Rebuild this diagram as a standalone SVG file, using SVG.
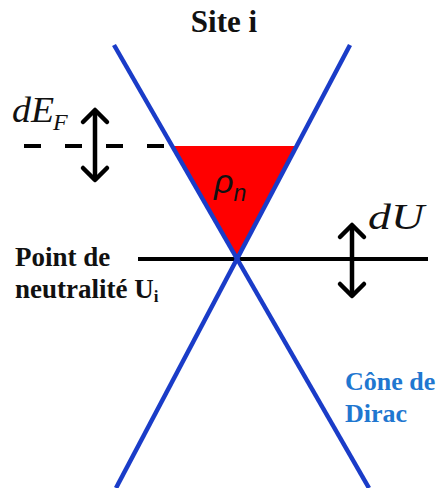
<svg xmlns="http://www.w3.org/2000/svg" width="440" height="488" viewBox="0 0 440 488">
<defs>
<style>
.blue{stroke:#1a3cc8;stroke-width:4.5;fill:none;stroke-linecap:butt}
.blk{stroke:#000;stroke-width:4;fill:none}
.arr{stroke:#000;stroke-width:4.5;fill:none;stroke-linecap:round;stroke-linejoin:round}
.lbl{font-family:"Liberation Serif","Times New Roman",serif;font-weight:bold;fill:#111}
.math{font-family:"Liberation Serif","Times New Roman",serif;font-style:italic;fill:#111}
.cone{font-family:"Liberation Serif","Times New Roman",serif;font-weight:bold;fill:#1f77d0}
</style>
</defs>
<rect width="440" height="488" fill="#fff"/>
<g id="fermi-sea">
<polygon points="172,146 296,146 238,259" fill="#ff0000"/>
<text x="214" y="193" font-family="'Liberation Sans',Arial,sans-serif" font-style="italic" font-size="34" fill="#111">ρ<tspan font-size="23" dy="8">n</tspan></text>
</g>
<g id="connectors">
<line class="blk" x1="24" y1="146" x2="172" y2="146" stroke-dasharray="17 24"/>
<line class="blk" x1="138" y1="259" x2="428" y2="259"/>
<line class="blue" x1="114" y1="45" x2="369" y2="488"/>
<line class="blue" x1="350" y1="45" x2="116" y2="488"/>
<g id="arrow-dEF">
<line class="arr" x1="95" y1="111" x2="95" y2="179"/>
<polyline class="arr" points="83,122 95,110 107,122"/>
<polyline class="arr" points="83,168 95,180 107,168"/>
</g>
<g id="arrow-dU">
<line class="arr" x1="352" y1="226" x2="352" y2="295"/>
<polyline class="arr" points="340,237 352,225 364,237"/>
<polyline class="arr" points="340,284 352,296 364,284"/>
</g>
</g>
<g id="title"><text class="lbl" x="224" y="32" font-size="31" text-anchor="middle">Site i</text></g>
<g id="label-dEF"><text class="math" x="12" y="122" font-size="36" textLength="42" lengthAdjust="spacingAndGlyphs">dE</text><text class="math" x="53" y="130" font-size="24">F</text></g>
<g id="label-dU"><text class="math" x="368" y="229" font-size="36" textLength="56" lengthAdjust="spacingAndGlyphs">dU</text></g>
<g id="label-point">
<text class="lbl" x="15" y="266" font-size="27">Point de</text>
<text class="lbl" x="15" y="298" font-size="27">neutralité U<tspan font-size="17" dy="4">i</tspan></text>
</g>
<g id="label-cone">
<text class="cone" x="345" y="390" font-size="26">Cône de</text>
<text class="cone" x="345" y="422" font-size="26">Dirac</text>
</g>
</svg>
